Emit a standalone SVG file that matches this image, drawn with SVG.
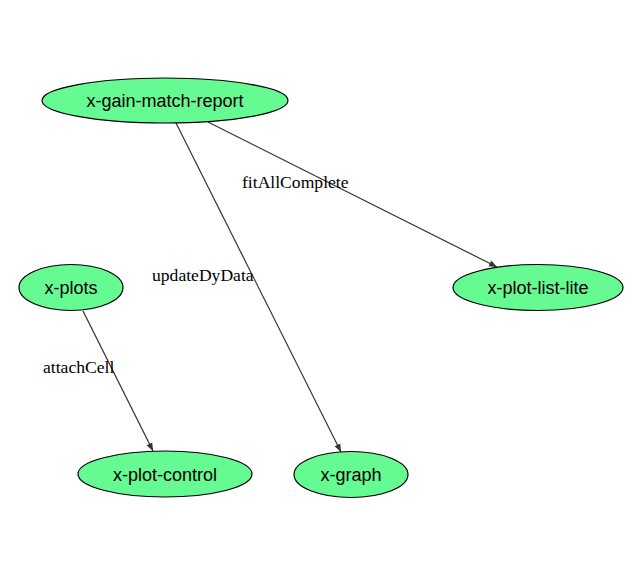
<svg xmlns="http://www.w3.org/2000/svg" width="641" height="573" viewBox="0 0 641 573">
<style>
.node ellipse{fill:#66fa92;stroke:#000;stroke-width:1.2}
.node text{font-family:"Liberation Sans",Arial,sans-serif;font-size:18px;text-anchor:middle;fill:#000}
.edge line{stroke:#333;stroke-width:1.2;marker-end:url(#arr)}
.lbl{font-family:"Liberation Serif","Times New Roman",serif;font-size:17.6px;fill:#000}
</style>
<defs>
<marker id="arr" viewBox="0 0 10 10" refX="10" refY="5" markerWidth="8" markerHeight="8" markerUnits="userSpaceOnUse" orient="auto">
<path d="M0,1 L10,5 L0,9 z" fill="#333"/>
</marker>
</defs>
<rect width="641" height="573" fill="#fff"/>
<g id="connectors">
<g class="edge"><line x1="208" y1="122" x2="497" y2="267"/></g>
<g class="edge"><line x1="176" y1="123" x2="341" y2="452"/></g>
<g class="edge"><line x1="83" y1="311" x2="153" y2="451"/></g>
<text class="lbl" x="242" y="188">fitAllComplete</text>
<text class="lbl" x="152" y="281">updateDyData</text>
<text class="lbl" x="43" y="373">attachCell</text>
</g>
<g id="x-gain-match-report" class="node"><ellipse cx="165" cy="100.5" rx="123" ry="22.5"/><text x="165" y="107">x-gain-match-report</text></g>
<g id="x-plots" class="node"><ellipse cx="71" cy="287.5" rx="52" ry="23"/><text x="71" y="294">x-plots</text></g>
<g id="x-plot-list-lite" class="node"><ellipse cx="538" cy="287.5" rx="85" ry="23"/><text x="538" y="294">x-plot-list-lite</text></g>
<g id="x-plot-control" class="node"><ellipse cx="165" cy="474" rx="87" ry="23"/><text x="165" y="480.5">x-plot-control</text></g>
<g id="x-graph" class="node"><ellipse cx="351" cy="474.5" rx="57" ry="23"/><text x="351" y="481">x-graph</text></g>
</svg>
